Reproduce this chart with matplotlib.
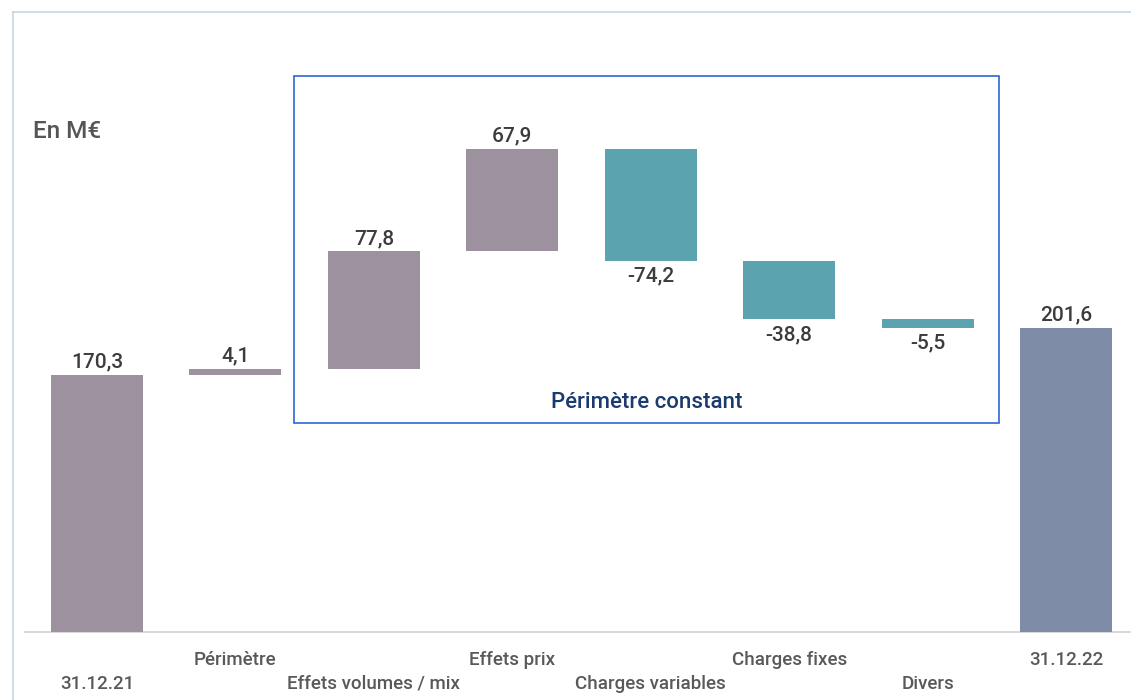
import matplotlib
matplotlib.use("Agg")
import matplotlib.pyplot as plt
from matplotlib.lines import Line2D
from matplotlib.patches import Rectangle

plt.rcParams['font.family'] = ['Roboto', 'DejaVu Sans']

categories = ["31.12.21", "Périmètre", "Effets volumes / mix", "Effets prix",
              "Charges variables", "Charges fixes", "Divers", "31.12.22"]
values = [170.3, 4.1, 77.8, 67.9, -74.2, -38.8, -5.5, 201.6]
labels = ["170,3", "4,1", "77,8", "67,9", "-74,2", "-38,8", "-5,5", "201,6"]
kinds = ["total", "delta", "delta", "delta", "delta", "delta", "delta", "total"]

C_POS = "#9d909f"
C_NEG = "#5ba4af"
C_END = "#7f8ca8"

W, H = 1131, 700
fig = plt.figure(figsize=(W / 100, H / 100), dpi=100)
ax = fig.add_axes([0, 0, 1, 1])
ax.set_xlim(-97 / 138.43, (W - 97) / 138.43)
ax.set_ylim(-(H - 632) / 1.509, 632 / 1.509)
ax.axis("off")

running = 0.0
for i, (v, k) in enumerate(zip(values, kinds)):
    if k == "total":
        bottom, height = 0.0, v
        running = v
        color = C_POS if i == 0 else C_END
    else:
        if v >= 0:
            bottom, height = running, v
            color = C_POS
        else:
            bottom, height = running + v, -v
            color = C_NEG
        running += v
    ax.bar(i, height, bottom=bottom, width=0.665, color=color, zorder=2)
    if v >= 0:
        ax.annotate(labels[i], (i, bottom + height), xytext=(0, 2.5), textcoords="offset points",
                    ha="center", va="bottom", fontsize=15, fontweight="medium", color="#3c3c3c")
    else:
        ax.annotate(labels[i], (i, bottom), xytext=(0, -4), textcoords="offset points",
                    ha="center", va="top", fontsize=15, fontweight="medium", color="#3c3c3c")

# category labels, staggered
for i, c in enumerate(categories):
    ypix = 684 if i % 2 == 0 else 660
    ax.text(i, -(ypix - 632) / 1.509, c, ha="center", va="center", fontsize=13.5,
            fontweight="medium", color="#595959")

# baseline
ax.axhline(0, xmin=25 / W, xmax=1, color="#d9d9d9", lw=1.5, zorder=1)

# outer frame
fig.add_artist(Line2D([12.5 / W, 12.5 / W], [0, 1 - 12 / H], transform=fig.transFigure,
                      color="#c8d5e2", lw=1.2))
fig.add_artist(Line2D([12.5 / W, 1], [1 - 12 / H, 1 - 12 / H], transform=fig.transFigure,
                      color="#c8d5e2", lw=1.2))

# inner box
fig.add_artist(Rectangle((294 / W, 1 - 423 / H), (999 - 294) / W, (423 - 76) / H,
                         transform=fig.transFigure, fill=False, edgecolor="#2a66d6", lw=1.2))
fig.text(647 / W, 1 - 403 / H, "Périmètre constant", ha="center", va="center",
         fontsize=16, fontweight="medium", color="#1b3a6e")

fig.text(33 / W, 1 - 131 / H, "En M€", ha="left", va="center", fontsize=17.5,
         fontweight="medium", color="#555555")

fig.savefig("out.png", dpi=100)
